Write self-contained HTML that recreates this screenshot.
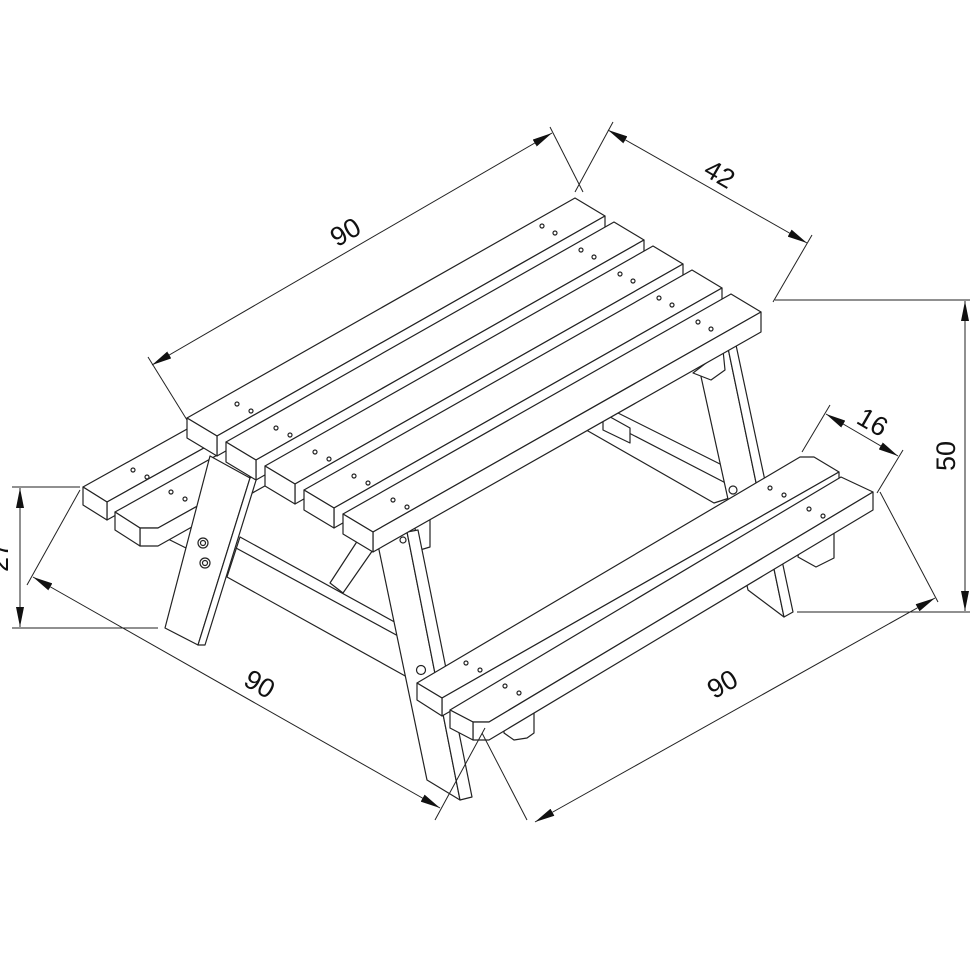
<!DOCTYPE html>
<html><head><meta charset="utf-8"><style>
html,body{margin:0;padding:0;background:#fff;}
svg{display:block;}
text{font-family:"Liberation Sans",sans-serif;font-size:27px;fill:#111;}
</style></head><body>
<svg width="970" height="971" viewBox="0 0 970 971" xmlns="http://www.w3.org/2000/svg">
<defs>
<marker id="ar" viewBox="0 0 20 8" refX="20" refY="4" markerWidth="20" markerHeight="8" markerUnits="userSpaceOnUse" orient="auto-start-reverse">
<path d="M0,0 L20,4 L0,8 Z" fill="#111"/></marker>
</defs>
<g fill="#fff" stroke="#222" stroke-width="1.2" stroke-linejoin="round">
<!-- back beam -->
<polygon points="606,407 752,480 745,493 714,503 581,427 600,418"/>
<line x1="600" y1="418" x2="745" y2="493"/>
<polygon points="603,413 630,428 630,443 603,430"/>
<!-- left support beam -->
<line x1="160" y1="535" x2="210" y2="560"/>
<polygon points="240,537 400,625 407,677 227,577"/>
<line x1="236" y1="548" x2="400" y2="637"/>
<!-- diagonal brace -->
<polygon points="330,583 358,540 375,547 343,593"/>
<!-- back right leg -->
<polygon points="700,372 728,348 784,617 748,590"/>
<polygon points="728,348 736,345 793,612 784,617"/>
<polygon points="693,373 711,380 725,370 723,350"/>
<circle cx="733" cy="490" r="4"/>
<!-- left bench -->
<polygon points="83,487 471,271 495,286 107,502"/>
<polygon points="107,502 495,286 495,304 107,520"/>
<polygon points="83,487 107,502 107,520 83,505"/>
<polygon points="115,512 503,296 546,312 158,528 140,528"/>
<polygon points="140,528 158,528 546,312 546,328 158,546 140,546"/>
<polygon points="115,512 140,528 140,546 115,530"/>
<circle cx="133" cy="470" r="2"/><circle cx="147" cy="477" r="2"/>
<circle cx="171" cy="492" r="2"/><circle cx="185" cy="499" r="2"/>
<!-- left front leg -->
<polygon points="210,456 250,478 198,645 165,628"/>
<polygon points="250,478 258,474 205,645 198,645"/>
<circle cx="203" cy="543" r="5"/><circle cx="203" cy="543" r="2.5"/>
<circle cx="205" cy="563" r="5"/><circle cx="205" cy="563" r="2.5"/>
<!-- right front leg -->
<polygon points="413,520 430,517 430,547 420,550"/>
<polygon points="378,545 407,532 460,800 427,780"/>
<polygon points="407,532 418,530 472,797 460,800"/>
<circle cx="421" cy="670" r="4.5"/><circle cx="403" cy="540" r="3"/>
<!-- table top -->
<polygon points="187,418 575,198 605,216 217,436"/><polygon points="217,436 605,216 605,236 217,456"/><polygon points="187,418 217,436 217,456 187,438"/>
<polygon points="226,442 614,222 644,240 256,460"/><polygon points="256,460 644,240 644,260 256,480"/><polygon points="226,442 256,460 256,480 226,462"/>
<polygon points="265,466 653,246 683,264 295,484"/><polygon points="295,484 683,264 683,284 295,504"/><polygon points="265,466 295,484 295,504 265,486"/>
<polygon points="304,490 692,270 722,288 334,508"/><polygon points="334,508 722,288 722,308 334,528"/><polygon points="304,490 334,508 334,528 304,510"/>
<polygon points="343,514 731,294 761,312 373,532"/><polygon points="373,532 761,312 761,332 373,552"/><polygon points="343,514 373,532 373,552 343,534"/>
<g>
<circle cx="237" cy="404" r="2"/><circle cx="251" cy="411" r="2"/><circle cx="542" cy="226" r="2"/><circle cx="555" cy="233" r="2"/>
<circle cx="276" cy="428" r="2"/><circle cx="290" cy="435" r="2"/><circle cx="581" cy="250" r="2"/><circle cx="594" cy="257" r="2"/>
<circle cx="315" cy="452" r="2"/><circle cx="329" cy="459" r="2"/><circle cx="620" cy="274" r="2"/><circle cx="633" cy="281" r="2"/>
<circle cx="354" cy="476" r="2"/><circle cx="368" cy="483" r="2"/><circle cx="659" cy="298" r="2"/><circle cx="672" cy="305" r="2"/>
<circle cx="393" cy="500" r="2"/><circle cx="407" cy="507" r="2"/><circle cx="698" cy="322" r="2"/><circle cx="711" cy="329" r="2"/>
</g>
<!-- right bench blocks -->
<polygon points="504,733 514,740 527,738 534,733 534,707 504,715"/>
<polygon points="798,557 816,567 834,558 834,533 800,540"/>
<!-- right bench -->
<polygon points="417,683 800,457 814,457 839,472 442,698"/>
<polygon points="442,698 839,472 839,490 442,716"/>
<polygon points="417,683 442,698 442,716 417,700"/>
<polygon points="450,710 841,477 873,492 489,722 473,722"/>
<polygon points="473,722 489,722 873,492 873,510 489,740 473,740"/>
<polygon points="450,710 473,722 473,740 450,728"/>
<circle cx="466" cy="663" r="2"/><circle cx="480" cy="670" r="2"/><circle cx="770" cy="488" r="2"/><circle cx="784" cy="495" r="2"/>
<circle cx="505" cy="686" r="2"/><circle cx="519" cy="693" r="2"/><circle cx="809" cy="509" r="2"/><circle cx="823" cy="516" r="2"/>
</g>
<!-- dimensions -->
<g stroke="#222" stroke-width="1" fill="none">
<line x1="148" y1="357" x2="187" y2="420"/><line x1="550" y1="127" x2="583" y2="192"/>
<line x1="152" y1="365" x2="552" y2="133" marker-start="url(#ar)" marker-end="url(#ar)"/>
<line x1="613" y1="122" x2="575" y2="192"/><line x1="812" y1="235" x2="773" y2="302"/>
<line x1="608" y1="130" x2="807" y2="243" marker-start="url(#ar)" marker-end="url(#ar)"/>
<line x1="775" y1="300" x2="970" y2="300"/><line x1="797" y1="612" x2="970" y2="612"/>
<line x1="965" y1="301" x2="965" y2="611" marker-start="url(#ar)" marker-end="url(#ar)"/>
<line x1="12" y1="487" x2="80" y2="487"/><line x1="12" y1="628" x2="158" y2="628"/>
<line x1="20" y1="488" x2="20" y2="627" marker-start="url(#ar)" marker-end="url(#ar)"/>
<line x1="802" y1="452" x2="830" y2="405"/><line x1="877" y1="493" x2="903" y2="450"/>
<line x1="826" y1="414" x2="898" y2="456" marker-start="url(#ar)" marker-end="url(#ar)"/>
<line x1="80" y1="490" x2="27" y2="585"/><line x1="485" y1="728" x2="435" y2="820"/>
<line x1="33" y1="577" x2="440" y2="808" marker-start="url(#ar)" marker-end="url(#ar)"/>
<line x1="482" y1="733" x2="527" y2="820"/><line x1="880" y1="492" x2="938" y2="602"/>
<line x1="535" y1="822" x2="935" y2="598" marker-start="url(#ar)" marker-end="url(#ar)"/>
</g>
<text x="350" y="240" text-anchor="middle" transform="rotate(-30 350 240)">90</text>
<text x="715" y="182" text-anchor="middle" transform="rotate(30 715 182)">42</text>
<text x="955" y="456" text-anchor="middle" transform="rotate(-90 955 456)">50</text>
<text x="8" y="557" text-anchor="middle" transform="rotate(-90 8 557)">27</text>
<text x="868" y="430" text-anchor="middle" transform="rotate(30 868 430)">16</text>
<text x="255" y="692" text-anchor="middle" transform="rotate(30 255 692)">90</text>
<text x="727" y="692" text-anchor="middle" transform="rotate(-30 727 692)">90</text>
</svg>
</body></html>
